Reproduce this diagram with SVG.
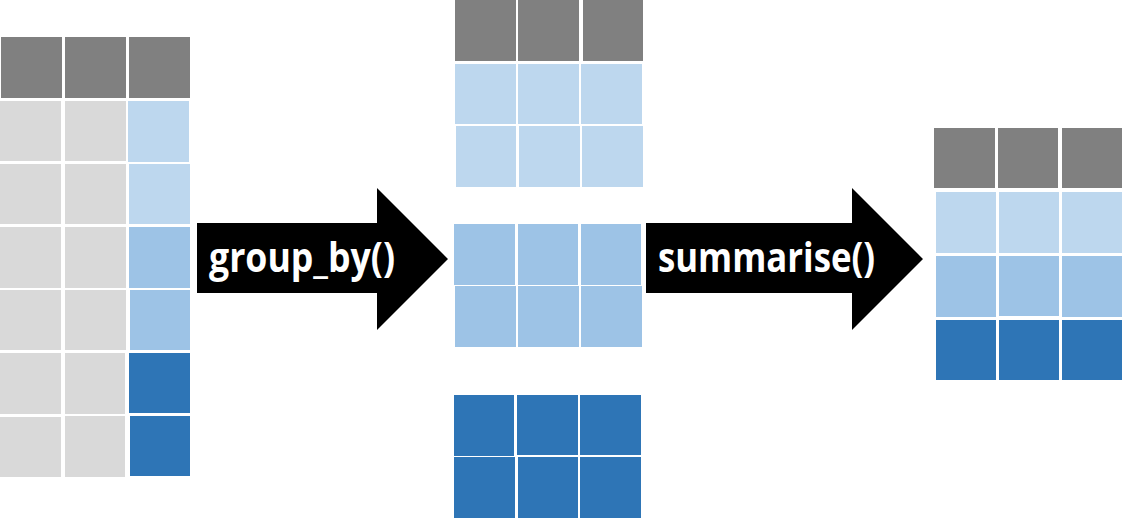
<svg xmlns="http://www.w3.org/2000/svg" width="1122" height="518" viewBox="0 0 1122 518">
<style>
.h{fill:#808080}
.g{fill:#D9D9D9}
.l{fill:#BDD7EE}
.m{fill:#9DC3E6}
.d{fill:#2E75B6}
.lbl{font-family:"Open Sans","DejaVu Sans",sans-serif;font-weight:bold;font-size:42px;fill:#FFFFFF}
</style>
<rect width="1122" height="518" fill="#FFFFFF"/>
<g id="input-table">
<rect class="h" x="1" y="37" width="61" height="61"/><rect class="h" x="65" y="37" width="61" height="61"/><rect class="h" x="129" y="37" width="61" height="61"/>
<rect class="g" x="0" y="101" width="61" height="60"/><rect class="g" x="65" y="101" width="61" height="60"/><rect class="l" x="128" y="101" width="61" height="61"/>
<rect class="g" x="0" y="164" width="61" height="60"/><rect class="g" x="65" y="164" width="61" height="60"/><rect class="l" x="129" y="164" width="61" height="60"/>
<rect class="g" x="0" y="227" width="61" height="61"/><rect class="g" x="65" y="227" width="61" height="61"/><rect class="m" x="129" y="227" width="61" height="61"/>
<rect class="g" x="0" y="290" width="61" height="60"/><rect class="g" x="65" y="290" width="61" height="60"/><rect class="m" x="130" y="290" width="60" height="60"/>
<rect class="g" x="0" y="353" width="61" height="61"/><rect class="g" x="65" y="353" width="60" height="61"/><rect class="d" x="129" y="353" width="61" height="60"/>
<rect class="g" x="0" y="417" width="61" height="60"/><rect class="g" x="65" y="416" width="60" height="61"/><rect class="d" x="130" y="416" width="60" height="60"/>
</g>
<g id="group1">
<rect class="h" x="455" y="0" width="61" height="61"/><rect class="h" x="518" y="0" width="61" height="61"/><rect class="h" x="583" y="0" width="60" height="61"/>
<rect class="l" x="455" y="64" width="61" height="60"/><rect class="l" x="518" y="64" width="61" height="60"/><rect class="l" x="581" y="64" width="61" height="60"/>
<rect class="l" x="456" y="126" width="60" height="61"/><rect class="l" x="519" y="126" width="61" height="61"/><rect class="l" x="582" y="126" width="61" height="61"/>
</g>
<g id="group2">
<rect class="m" x="454" y="224" width="61" height="61"/><rect class="m" x="518" y="224" width="60" height="61"/><rect class="m" x="581" y="224" width="60" height="61"/>
<rect class="m" x="455" y="286" width="61" height="61"/><rect class="m" x="518" y="286" width="61" height="61"/><rect class="m" x="581" y="286" width="61" height="61"/>
</g>
<g id="group3">
<rect class="d" x="454" y="395" width="60" height="61"/><rect class="d" x="517" y="395" width="61" height="60"/><rect class="d" x="580" y="395" width="61" height="60"/>
<rect class="d" x="454" y="457" width="61" height="61"/><rect class="d" x="518" y="457" width="60" height="61"/><rect class="d" x="580" y="457" width="61" height="61"/>
</g>
<g id="output-table">
<rect class="h" x="934" y="128" width="61" height="60"/><rect class="h" x="998" y="128" width="60" height="60"/><rect class="h" x="1062" y="128" width="60" height="60"/>
<rect class="l" x="936" y="192" width="60" height="61"/><rect class="l" x="999" y="192" width="60" height="61"/><rect class="l" x="1062" y="192" width="60" height="61"/>
<rect class="m" x="936" y="256" width="60" height="61"/><rect class="m" x="999" y="256" width="60" height="60"/><rect class="m" x="1062" y="256" width="60" height="61"/>
<rect class="d" x="936" y="320" width="60" height="60"/><rect class="d" x="999" y="320" width="60" height="60"/><rect class="d" x="1062" y="320" width="60" height="60"/>
</g>
<g id="connectors">
<g id="arrow-group-by">
<polygon points="197,223 377,223 377,188 448,259 377,330 377,293 197,293" fill="#000000"/>
<text class="lbl" x="209" y="272" textLength="186" lengthAdjust="spacingAndGlyphs">group_by()</text>
</g>
<g id="arrow-summarise">
<polygon points="646,223 852,223 852,188 923,259 852,330 852,293 646,293" fill="#000000"/>
<text class="lbl" x="658" y="272" textLength="217" lengthAdjust="spacingAndGlyphs">summarise()</text>
</g>
</g>
</svg>
